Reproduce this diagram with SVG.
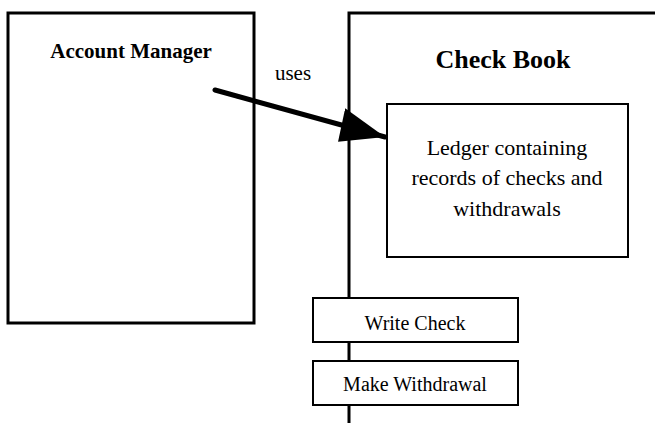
<svg xmlns="http://www.w3.org/2000/svg" width="655" height="423" viewBox="0 0 655 423">
<style>
.t{font-family:"Liberation Serif","Times New Roman",serif;fill:#000;text-anchor:middle}
.b{font-weight:bold}
.box{fill:#fff;stroke:#000;stroke-width:2}
</style>
<defs>
<marker id="ah" markerUnits="userSpaceOnUse" markerWidth="50" markerHeight="40" refX="46" refY="17" orient="auto">
<path d="M0,0 L46,17 L2,34 Z" fill="#000"/>
</marker>
</defs>
<rect width="655" height="423" fill="#fff"/>
<g id="account-manager">
<rect x="8" y="13" width="246" height="310" fill="#fff" stroke="#000" stroke-width="3"/>
<text class="t b" x="131" y="58" font-size="21">Account Manager</text>
</g>
<g id="check-book">
<path d="M349,423 V13 H655" fill="none" stroke="#000" stroke-width="3"/>
<text class="t b" x="503" y="68" font-size="26">Check Book</text>
</g>
<g id="ledger">
<rect class="box" x="387" y="104" width="241" height="153"/>
<text class="t" x="507" y="155" font-size="22">Ledger containing</text>
<text class="t" x="507" y="185" font-size="22">records of checks and</text>
<text class="t" x="507" y="216" font-size="22">withdrawals</text>
</g>
<g id="write-check">
<rect class="box" x="313" y="298" width="205" height="44"/>
<text class="t" x="415" y="330" font-size="20">Write Check</text>
</g>
<g id="make-withdrawal">
<rect class="box" x="313" y="361" width="205" height="44"/>
<text class="t" x="415" y="391" font-size="20">Make Withdrawal</text>
</g>
<g id="connectors">
<line x1="215" y1="90" x2="385" y2="137" stroke="#000" stroke-width="5" stroke-linecap="round" marker-end="url(#ah)"/>
<text class="t" x="293" y="80" font-size="21">uses</text>
</g>
</svg>
